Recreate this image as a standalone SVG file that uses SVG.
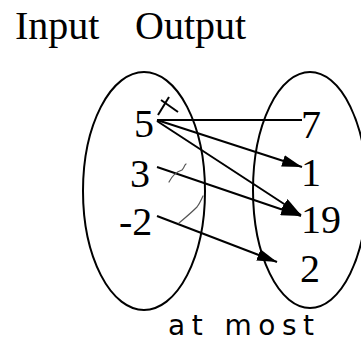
<svg xmlns="http://www.w3.org/2000/svg" width="361" height="341" viewBox="0 0 361 341">
<style>
.lbl{font-family:"Liberation Serif","Times New Roman",serif;font-size:40px;fill:#000}
.oval{fill:none;stroke:#000;stroke-width:2}
.edge{stroke:#000;stroke-width:2;fill:none}
.pen{stroke:#555;stroke-width:1.2;fill:none;stroke-linecap:round}
.hand{font-family:"DejaVu Sans","Liberation Sans",sans-serif;font-size:28px;fill:#000}
</style>
<defs>
<marker id="ah" viewBox="0 0 20 12" refX="20" refY="6" markerWidth="20" markerHeight="12" markerUnits="userSpaceOnUse" orient="auto">
<path d="M0,0 L20,6 L0,12 Z" fill="#000"/>
</marker>
</defs>
<rect width="361" height="341" fill="#fff"/>
<g id="title">
<text class="lbl" x="15" y="39">Input</text>
<text class="lbl" x="135" y="39">Output</text>
</g>
<g id="input-set"><ellipse class="oval" cx="144" cy="191" rx="61" ry="119"/></g>
<g id="output-set"><ellipse class="oval" cx="310" cy="190" rx="57" ry="118"/></g>
<g id="in-5"><text class="lbl" x="134" y="137">5</text></g>
<g id="in-3"><text class="lbl" x="130" y="187">3</text></g>
<g id="in-neg2"><text class="lbl" x="119" y="235">-2</text></g>
<g id="out-7"><text class="lbl" x="301" y="138">7</text></g>
<g id="out-1"><text class="lbl" x="301" y="186">1</text></g>
<g id="out-19"><text class="lbl" x="301" y="233">19</text></g>
<g id="out-2"><text class="lbl" x="300" y="282">2</text></g>
<g id="connectors">
<line class="edge" x1="157" y1="120" x2="302" y2="120"/>
<line class="edge" x1="157" y1="120" x2="302" y2="167" marker-end="url(#ah)"/>
<line class="edge" x1="157" y1="121" x2="301" y2="215" marker-end="url(#ah)"/>
<line class="edge" x1="157" y1="167" x2="301" y2="216" marker-end="url(#ah)"/>
<line class="edge" x1="157" y1="216" x2="277" y2="262" marker-end="url(#ah)"/>
</g>
<g id="marks">
<path d="M158,115 L169,97" stroke="#000" stroke-width="2" fill="none"/>
<path d="M161,100 L178,112" stroke="#000" stroke-width="2" fill="none"/>
<path class="pen" d="M169,182 C172,176 176,172 182,170 C185,167 184,165 186,164"/>
<path class="pen" d="M179,223 C185,218 192,212 197,207 C200,203 201,200 203,196"/>
</g>
<g id="note"><text class="hand" x="168" y="335" textLength="146" lengthAdjust="spacing">at most</text></g>
</svg>
